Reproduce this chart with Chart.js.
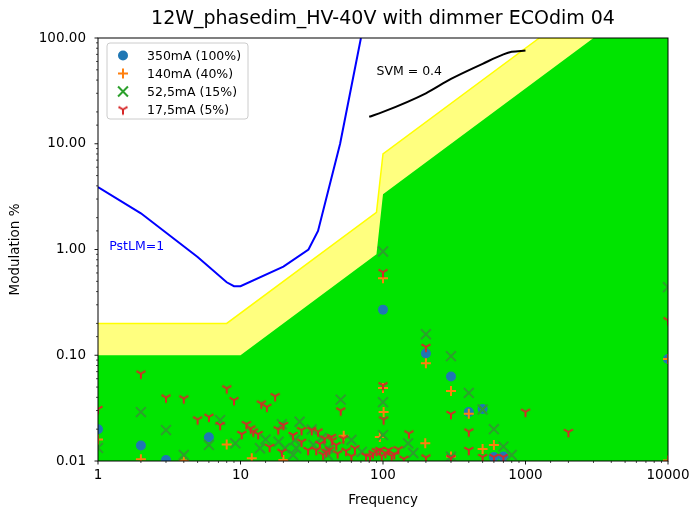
<!DOCTYPE html>
<html>
<head>
<meta charset="utf-8">
<title>12W_phasedim_HV-40V with dimmer ECOdim 04</title>
<script src="https://cdn.jsdelivr.net/npm/chart.js@4.4.1/dist/chart.umd.min.js"></script>
<style>
    body { margin: 0; background: #fff; }
    #wrap { width: 692px; height: 512px; }
</style>
</head>
<body>
<div id="wrap"><canvas id="chart" width="692" height="512"></canvas></div>
<script>
// DATA
const xTicks = [1, 10, 100, 1000, 10000];
const yTicks = [0.01, 0.1, 1, 10, 100];

// IEEE 1789 style regions
const greenFreq = [1, 10, 90, 100, 3000, 10000];
const greenMod = [0.1, 0.1, 0.9, 3.33, 100, 100];
const yellowFreq = [1, 8, 90, 100, 1250, 10000];
const yellowMod = [0.2, 0.2, 2.25, 8, 100, 100];

// PstLM = 1 curve
const pstFreq = [1, 2, 5, 8, 9, 10, 20, 30, 35, 50, 70];
const pstMod = [3.9, 2.2, 0.85, 0.49, 0.45, 0.45, 0.69, 1.0, 1.5, 10, 100];

// SVM = 0.4 curve
const svmFreq = [80, 100, 200, 300, 500, 700, 800, 1000];
const svmMod = [18, 20, 30, 41, 57, 70, 74, 76];

// measurements
const freq350 = [1, 2, 3, 6, 100, 200, 300, 400, 500, 600, 700, 10000];
const mod350 = [0.020, 0.014, 0.0102, 0.0168, 0.27, 0.104, 0.063, 0.029, 0.031, 0.0109, 0.011, 0.092];

const freq140 = [1, 2, 4, 8, 12, 20, 53, 95, 100, 100, 101, 200, 198, 300, 300, 400, 500, 600, 10000, 10000];
const mod140 = [0.016, 0.0104, 0.0101, 0.0143, 0.0106, 0.0102, 0.0173, 0.0169, 0.535, 0.049, 0.029, 0.084, 0.0147, 0.046, 0.011, 0.028, 0.013, 0.0142, 0.092, 0.0101];

const freq52 = [1, 2, 3, 4, 6, 7.2, 9.2, 13.7, 15, 18.5, 19.5, 20.5, 23.4, 24, 24.6, 26, 31.6, 32.5, 37, 41, 41, 50.5, 60, 71,
    100, 100, 100, 150, 163, 200, 300, 300, 400, 500, 600, 700, 800, 10000];
const mod52 = [0.0133, 0.029, 0.0196, 0.0114, 0.0142, 0.0244, 0.0147, 0.0132, 0.016, 0.0152, 0.0223, 0.0132, 0.0114, 0.0158, 0.0132, 0.0235, 0.0199, 0.0142, 0.0165, 0.0132, 0.0114, 0.038, 0.0158, 0.0122,
    0.957, 0.036, 0.0176, 0.0147, 0.0119, 0.158, 0.098, 0.011, 0.044, 0.0307, 0.02, 0.0137, 0.0114, 0.44];

const freq17 = [1, 2, 3, 4, 5, 6, 7.2, 8, 9, 10.2, 11, 11.8, 12.3, 13.3, 14, 15.3, 16, 17.5, 18.4, 19.5,
    20, 23.4, 26.8, 26.8, 29.8, 31.6, 34, 35, 36, 38, 39, 40, 42, 43.5, 44, 47, 48, 50.5, 52.7, 55,
    60, 63.5, 76, 81, 85, 90, 95, 98, 100, 100, 101, 104, 109, 115, 120, 128, 140, 152, 200, 200,
    300, 300, 400, 400, 500, 600, 700, 1000, 2000, 10000];
const mod17 = [0.031, 0.067, 0.0398, 0.039, 0.0247, 0.0262, 0.0219, 0.0486, 0.0376, 0.018, 0.0223, 0.0203, 0.019, 0.018, 0.0349, 0.0325, 0.0136, 0.041, 0.0199, 0.0122,
    0.0219, 0.0176, 0.0196, 0.0152, 0.0127, 0.0196, 0.0127, 0.019, 0.0145, 0.0115, 0.0163, 0.0122, 0.0128, 0.0169, 0.0157, 0.0142, 0.0118, 0.03, 0.0163, 0.0125,
    0.0111, 0.0132, 0.0112, 0.011, 0.0118, 0.0124, 0.0127, 0.0112, 0.052, 0.61, 0.0247, 0.0119, 0.0127, 0.0112, 0.0116, 0.0129, 0.0105, 0.0182, 0.12, 0.0108,
    0.0278, 0.0107, 0.019, 0.0127, 0.0109, 0.0109, 0.0109, 0.0292, 0.0188, 0.214];

const labels = ['350mA (100%)', '140mA (40%)', '52,5mA (15%)', '17,5mA (5%)'];

const noteText = ['PstLM=1', 'SVM = 0.4'];
const noteFreq = [1.2, 90];
const noteMod = [1.0, 45];

// HELPERS
function pts(xs, ys) {
    return xs.map((x, i) => ({x: x, y: ys[i]}));
}

function isPow10(v) {
    let l = Math.log10(v);
    return Math.abs(l - Math.round(l)) < 1e-6;
}

function triDown(color) {
    let c = document.createElement('canvas');
    c.width = 14; c.height = 14;
    let g = c.getContext('2d');
    let m = 7, r = 5.2;
    g.strokeStyle = color;
    g.lineWidth = 2;
    g.beginPath();
    g.moveTo(m, m); g.lineTo(m, m + r);
    g.moveTo(m, m); g.lineTo(m - r * 0.866, m - r * 0.5);
    g.moveTo(m, m); g.lineTo(m + r * 0.866, m - r * 0.5);
    g.stroke();
    return c;
}

const redTri = triDown('#d62728');

function marker(ctx, ds, x, y) {
    ctx.save();
    ctx.fillStyle = ds.backgroundColor;
    ctx.strokeStyle = ds.borderColor;
    ctx.lineWidth = ds.borderWidth;
    let r = ds.pointRadius;
    ctx.beginPath();
    if (ds.pointStyle === 'circle') {
        ctx.arc(x, y, r, 0, Math.PI * 2);
        ctx.fill();
    } else if (ds.pointStyle === 'cross') {
        ctx.moveTo(x - r, y); ctx.lineTo(x + r, y);
        ctx.moveTo(x, y - r); ctx.lineTo(x, y + r);
        ctx.stroke();
    } else if (ds.pointStyle === 'crossRot') {
        let d = r * Math.SQRT1_2;
        ctx.moveTo(x - d, y - d); ctx.lineTo(x + d, y + d);
        ctx.moveTo(x - d, y + d); ctx.lineTo(x + d, y - d);
        ctx.stroke();
    } else {
        ctx.drawImage(ds.pointStyle, x - 7, y - 7);
    }
    ctx.restore();
}

// PLUGIN: frame, ticks, notes, legend
const extras = {
    id: 'extras',
    afterDatasetsDraw(chart) {
        let {ctx, chartArea: a, scales} = chart;
        ctx.save();
        ctx.strokeStyle = '#000';
        ['x', 'y'].forEach(id => {
            let s = scales[id];
            s.ticks.forEach(t => {
                let major = isPow10(t.value);
                let len = major ? 3.5 : 2;
                ctx.lineWidth = major ? 0.9 : 0.7;
                let p = s.getPixelForValue(t.value);
                ctx.beginPath();
                if (id === 'x') {
                    ctx.moveTo(p, a.bottom); ctx.lineTo(p, a.bottom + len);
                } else {
                    ctx.moveTo(a.left, p); ctx.lineTo(a.left - len, p);
                }
                ctx.stroke();
            });
        });
        ctx.lineWidth = 1;
        ctx.strokeRect(a.left, a.top, a.right - a.left, a.bottom - a.top);

        // notes
        ctx.font = '12.5px "DejaVu Sans"';
        ctx.textBaseline = 'alphabetic';
        ctx.textAlign = 'left';
        let noteColor = ['#0000ff', '#000'];
        noteText.forEach((txt, i) => {
            ctx.fillStyle = noteColor[i];
            ctx.fillText(txt, scales.x.getPixelForValue(noteFreq[i]), scales.y.getPixelForValue(noteMod[i]));
        });

        // legend
        let bx = a.left + 9, by = a.top + 5, bw = 141, bh = 76;
        ctx.beginPath();
        ctx.roundRect(bx, by, bw, bh, 3);
        ctx.fillStyle = 'rgba(255,255,255,0.8)';
        ctx.fill();
        ctx.strokeStyle = '#cccccc';
        ctx.lineWidth = 1;
        ctx.stroke();
        let scat = chart.data.datasets.filter(d => d.label);
        scat.forEach((ds, i) => {
            let y = by + 12.5 + i * 18;
            marker(ctx, ds, bx + 16, y);
            ctx.fillStyle = '#000';
            ctx.textBaseline = 'middle';
            ctx.fillText(ds.label, bx + 40, y + 1);
        });
        ctx.restore();
    }
};

Chart.defaults.font.family = '"DejaVu Sans"';
Chart.defaults.color = '#000';

new Chart(document.getElementById('chart'), {
    type: 'scatter',
    data: {
        datasets: [
            {label: labels[0], data: pts(freq350, mod350), pointStyle: 'circle', pointRadius: 5, backgroundColor: '#1f77b4', borderColor: '#1f77b4', borderWidth: 0, order: 4, clip: 0},
            {label: labels[1], data: pts(freq140, mod140), pointStyle: 'cross', pointRadius: 5, backgroundColor: '#ff7f0e', borderColor: '#ff7f0e', borderWidth: 2, order: 3, clip: 0},
            {label: labels[2], data: pts(freq52, mod52), pointStyle: 'crossRot', pointRadius: 7, backgroundColor: '#2ca02c', borderColor: '#2ca02c', borderWidth: 2, order: 2, clip: 0},
            {label: labels[3], data: pts(freq17, mod17), pointStyle: redTri, pointRadius: 6, backgroundColor: '#d62728', borderColor: '#d62728', borderWidth: 2, order: 1, clip: 0},
            {type: 'line', data: pts(pstFreq, pstMod), borderColor: '#0000ff', borderWidth: 2, pointRadius: 0, tension: 0, fill: false, order: 6, clip: 0},
            {type: 'line', data: pts(svmFreq, svmMod), borderColor: '#000', borderWidth: 2, pointRadius: 0, tension: 0.3, cubicInterpolationMode: 'monotone', fill: false, order: 6, clip: 0},
            {type: 'line', data: pts(greenFreq, greenMod), borderColor: 'rgb(0,228,0)', borderWidth: 0, backgroundColor: 'rgb(0,228,0)', pointRadius: 0, fill: 'start', order: 8, clip: 0},
            {type: 'line', data: pts(yellowFreq, yellowMod), borderColor: '#ffff00', borderWidth: 1.5, backgroundColor: 'rgba(255,255,0,0.5)', pointRadius: 0, fill: 'start', order: 9, clip: 0}
        ]
    },
    options: {
        responsive: false,
        animation: false,
        devicePixelRatio: 1,
        layout: {padding: {top: 0, right: 24, bottom: 0, left: 0}},
        plugins: {
            legend: {display: false},
            tooltip: {enabled: false},
            title: {
                display: true,
                fullSize: false,
                text: '12W_phasedim_HV-40V with dimmer ECOdim 04',
                font: {size: 19, weight: 'normal'},
                color: '#000',
                padding: {top: 8, bottom: 7.2}
            }
        },
        scales: {
            x: {
                type: 'logarithmic',
                min: xTicks[0],
                max: xTicks[xTicks.length - 1],
                grid: {display: false, drawTicks: false},
                border: {display: false},
                ticks: {
                    autoSkip: false,
                    maxRotation: 0,
                    padding: 6,
                    font: {size: 13.5},
                    callback: v => xTicks.includes(v) ? String(v) : ''
                },
                title: {display: true, text: 'Frequency', font: {size: 13.5}, padding: {top: 0, bottom: 3}},
                afterFit: s => { s.height = 51; s.paddingLeft = 0; s.paddingRight = 0; }
            },
            y: {
                type: 'logarithmic',
                min: yTicks[0],
                max: yTicks[yTicks.length - 1],
                grid: {display: false, drawTicks: false},
                border: {display: false},
                ticks: {
                    autoSkip: false,
                    padding: 12,
                    font: {size: 13.5},
                    callback: v => isPow10(v) ? Number(v).toFixed(2) : ''
                },
                title: {display: true, text: 'Modulation %', font: {size: 13.5}, padding: {top: 7, bottom: 0}},
                afterFit: s => { s.width = 98; s.paddingTop = 0; s.paddingBottom = 0; }
            }
        }
    },
    plugins: [extras]
});
</script>
</body>
</html>
